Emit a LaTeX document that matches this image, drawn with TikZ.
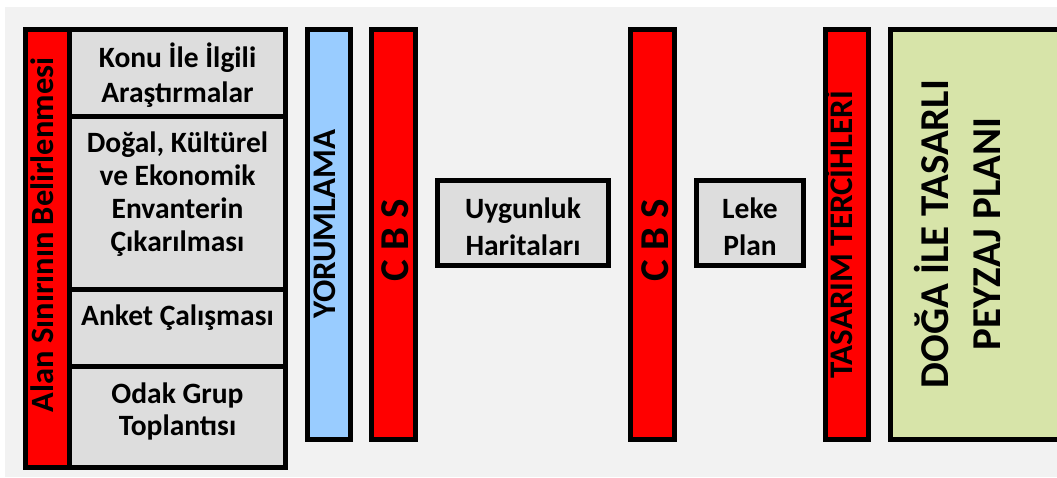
\documentclass[tikz,border=0pt]{standalone}
\usepackage{fontspec}
\setmainfont{Carlito}
\definecolor{bgc}{HTML}{F2F2F2}
\definecolor{boxg}{HTML}{DDDDDD}
\definecolor{barred}{HTML}{FF0000}
\definecolor{barblue}{HTML}{99CCFF}
\definecolor{plangreen}{HTML}{D7E4A9}
\begin{document}
\begin{tikzpicture}[x=1pt,y=-1pt,
  bx/.style={draw=black,line width=5pt,inner sep=0pt,outer sep=0pt,anchor=north west},
  boxtxt/.style={inner sep=0pt,anchor=base,font=\bfseries\fontsize{29.5}{34}\selectfont},
  bartxt/.style={inner sep=0pt,anchor=base,rotate=90,font=\bfseries\fontsize{33}{40}\selectfont},
  bigtxt/.style={inner sep=0pt,anchor=base,rotate=90,font=\bfseries\fontsize{41}{50}\selectfont}]
\fill[white] (0,0) rectangle (1057,477);
\fill[bgc] (5,7) rectangle (1057,477);
\useasboundingbox (0,0) rectangle (1057,477);
\clip (0,0) rectangle (1057,477);
% left column
\node[bx,fill=boxg,minimum width=215.5pt,minimum height=86.5pt] (konu) at (69.5,29.5) {};
\node[bx,fill=boxg,minimum width=215.5pt,minimum height=173pt] (dogal) at (69.5,116) {};
\node[bx,fill=boxg,minimum width=215.5pt,minimum height=77pt] (anket) at (69.5,289) {};
\node[bx,fill=boxg,minimum width=215.5pt,minimum height=101pt] (odak) at (69.5,366) {};
\node[bx,fill=barred,minimum width=44pt,minimum height=438pt] (alan) at (25.5,29.5) {};
% bars
\node[bx,fill=barblue,minimum width=43pt,minimum height=410pt] (yorum) at (307.5,29.5) {};
\node[bx,fill=barred,minimum width=44pt,minimum height=410pt] (cbsa) at (371.5,29.5) {};
\node[bx,fill=boxg,minimum width=171pt,minimum height=85pt] (uygun) at (437.5,180.5) {};
\node[bx,fill=barred,minimum width=44pt,minimum height=410pt] (cbsb) at (630.5,29.5) {};
\node[bx,fill=boxg,minimum width=107pt,minimum height=85pt] (leke) at (696.5,180.5) {};
\node[bx,fill=barred,minimum width=43pt,minimum height=410pt] (tasarim) at (825.5,29.5) {};
\node[bx,fill=plangreen,minimum width=200pt,minimum height=410pt] (plan) at (890.5,29.5) {};
% texts
\node[boxtxt] (t1a) at (177.5,67) {Konu İle İlgili};
\node[boxtxt] (t1b) at (177.5,102) {Araştırmalar};
\node[boxtxt] (t2a) at (177.5,152) {Doğal, Kültürel};
\node[boxtxt] (t2b) at (177.5,185) {ve Ekonomik};
\node[boxtxt] (t2c) at (177.5,218) {Envanterin};
\node[boxtxt] (t2d) at (177.5,251) {Çıkarılması};
\node[boxtxt] (t3a) at (177.5,325) {Anket Çalışması};
\node[boxtxt] (t4a) at (177.5,403) {Odak Grup};
\node[boxtxt] (t4b) at (177.5,435) {Toplantısı};
\node[boxtxt] (t5a) at (523,218) {Uygunluk};
\node[boxtxt] (t5b) at (523,255) {Haritaları};
\node[boxtxt] (t6a) at (750,218) {Leke};
\node[boxtxt] (t6b) at (750,255) {Plan};
\node[bartxt,font=\bfseries\fontsize{32.5}{40}\selectfont] (talan) at (53,235) {Alan Sınırının Belirlenmesi};
\node[bartxt] (tyorum) at (335,224) {YORUMLAMA};
\node[bigtxt] (tcbsa) at (408,240) {C B S};
\node[bigtxt] (tcbsb) at (668,240) {C B S};
\node[bartxt] (ttasarim) at (852,235) {TASARIM TERCİHLERİ};
\node[bigtxt] (tplana) at (948,234) {DOĞA İLE TASARLI};
\node[bigtxt] (tplanb) at (1000,234) {PEYZAJ PLANI};
\end{tikzpicture}
\end{document}
